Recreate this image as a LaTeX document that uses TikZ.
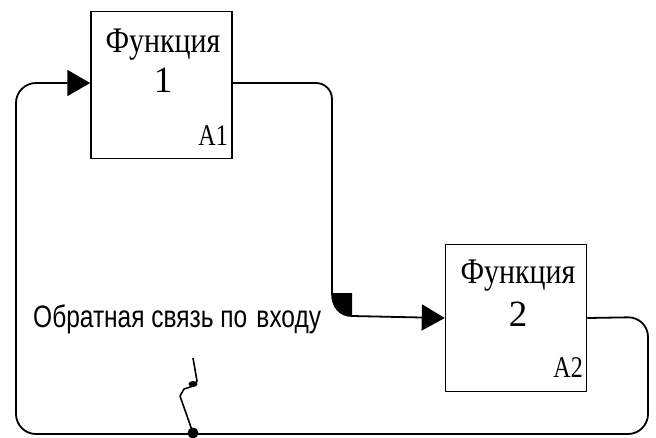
\documentclass[tikz,border=0pt]{standalone}
\usepackage{fontspec}
\setmainfont{Liberation Serif}
\newfontfamily\arialf{Liberation Sans}
\usetikzlibrary{arrows.meta}
\tikzset{
  fbox/.style={draw, line width=1.5pt, minimum width=141pt, minimum height=147pt, inner sep=0pt},
  ftitle/.style={anchor=base, inner sep=0pt, font=\fontsize{36}{40}\selectfont},
  fnum/.style={anchor=base, inner sep=0pt, font=\fontsize{37}{40}\selectfont},
  fcode/.style={anchor=base east, inner sep=0pt, font=\fontsize{30}{32}\selectfont},
  conn/.style={line width=1.8pt},
  tip/.style={-{Triangle[length=23pt,width=26pt]}},
}
\begin{document}
\begin{tikzpicture}[x=1pt,y=-1pt]
\useasboundingbox (0,0) rectangle (656,437);
% boxes
\node[fbox] (b1) at (161.5,85) {};
\node[fbox] (b2) at (516,318) {};
\node[ftitle] (t1) at (163,52) {\scalebox{0.83}[1]{Функция}};
\node[fnum] (n1) at (163,92) {1};
\node[fcode] (c1) at (228,145) {\scalebox{0.8}[1]{A1}};
\node[ftitle] (t2) at (518,283) {\scalebox{0.83}[1]{Функция}};
\node[fnum] (n2) at (518,326) {2};
\node[fcode] (c2) at (583,377) {\scalebox{0.8}[1]{A2}};
% label
\node[anchor=base west, inner sep=0pt, font=\arialf\fontsize{31}{34}\selectfont] (lbl) at (33,327) {\scalebox{0.79}[1]{Обратная связь по\hspace{3pt} входу}};
% connector 1 -> 2
\coordinate (k1) at (332,293);
\coordinate (k2) at (352,316);
\draw[conn, rounded corners=16pt] ([yshift=2pt]b1.east) -- (332,83) -- (k1);
\fill (k1) -- (352,293) -- (k2) .. controls (340,316) and (332,307) .. (k1) -- cycle;
\draw[conn] (k1) .. controls (332,307) and (340,316) .. (k2);
\draw[conn, tip] (k2) -- (b2.west);
% feedback 2 -> 1
\draw[conn, tip, rounded corners=20pt] (b2.east) -- (648,317) -- (648,434) -- (16,434) -- (16,83) -- ([yshift=2pt]b1.west);
% leader squiggle
\node[circle, fill, inner sep=0pt, minimum size=11pt] (dot) at (193,433) {};
\coordinate (sq) at (193,358);
\draw[line width=1.6pt, line join=round] (sq) -- (197,381) .. controls (196,386) and (190,387) .. (184,389) -- (180,396) -- (dot.center);
\fill (193,384) ellipse (4.5pt and 3pt);
\end{tikzpicture}
\end{document}
